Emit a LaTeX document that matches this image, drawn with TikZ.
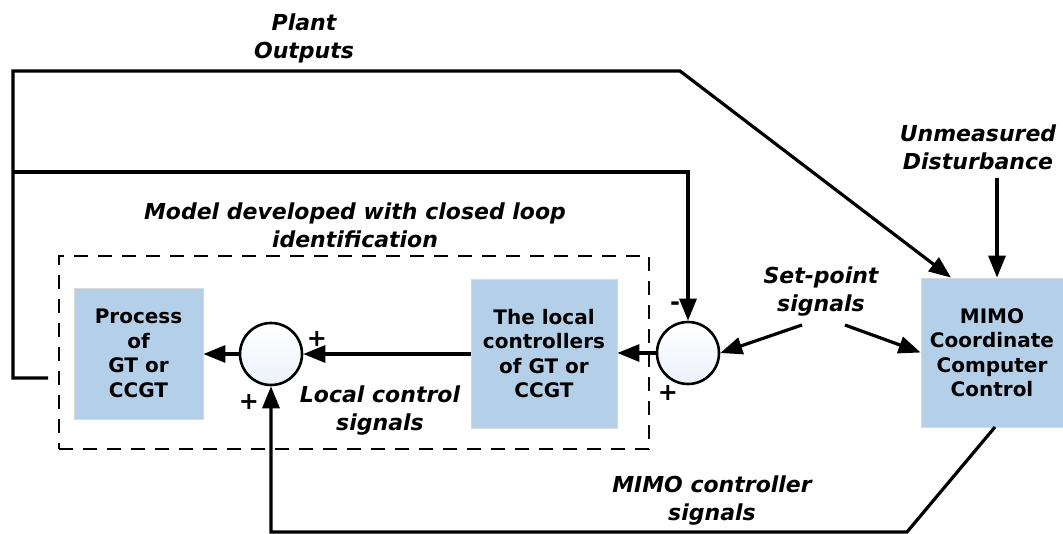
\documentclass[tikz,border=0pt]{standalone}
\usepackage{fontspec}
\setmainfont{DejaVu Sans}
\usetikzlibrary{arrows.meta,calc}
\definecolor{boxblue}{RGB}{180,207,232}
\definecolor{sumfill}{RGB}{236,241,250}
\tikzset{
  x=1pt, y=-1pt,
  wire/.style={line width=3.2pt},
  arr/.style={wire, -{Triangle[length=22pt,width=17pt]}},
  block/.style={fill=boxblue, draw=black!15, line width=0.8pt, align=center, inner sep=0pt,
    font=\fontsize{20}{24.5}\selectfont\bfseries},
  sumnode/.style={circle, draw, line width=2.6pt, minimum size=62pt, inner sep=0pt,
    top color=white, bottom color=sumfill},
  lbl/.style={align=center, inner sep=0pt, font=\fontsize{22}{28}\selectfont\bfseries\itshape},
  sgn/.style={inner sep=0pt, font=\fontsize{24}{24}\selectfont\bfseries},
  modelbox/.style={draw, line width=2.5pt, dash pattern=on 14pt off 10pt, inner sep=0pt}
}
\begin{document}
\begin{tikzpicture}
\useasboundingbox (0,0) rectangle (1063,533);
% dashed model box
\node[modelbox, minimum width=590pt, minimum height=193pt] (model) at (354,352.5) {};
% blocks
\node[block, minimum width=129pt, minimum height=131pt] (proc) at (138.5,353.5) {Process\\of\\GT or\\CCGT};
\node[block, minimum width=146pt, minimum height=149pt] (ctrl) at (544,353.5) {The local\\controllers\\of GT or\\CCGT};
\node[block, minimum width=142pt, minimum height=149pt] (mimo) at (992,352.5) {MIMO\\Coordinate\\Computer\\Control};
% summing junctions
\node[sumnode] (s1) at (271,354) {};
\node[sumnode] (s2) at (688,353) {};
% coordinates
\coordinate (po) at (48,378);
\coordinate (pl) at (13,378);
\coordinate (pt) at (13,71);
\coordinate (pk) at (680,71);
\coordinate (br) at (13,172);
\coordinate (bk) at (688,172);
\coordinate (dist) at (997,178);
\coordinate (sp1) at (802,325);
\coordinate (sp2) at (845,325);
\coordinate (mb) at (995,427);
\coordinate (mk) at (907,532);
\coordinate (ml) at (271,532);
% connectors
\draw[arr] (s1.west) -- (proc.east |- s1.west);
\draw[arr] (ctrl.west |- s1.east) -- (s1.east);
\draw[arr] (s2.west) -- (ctrl.east |- s2.west);
\draw[arr] (po) -- (pl) -- (pt) -- (pk) -- (mimo.north west -| 951,0);
\draw[arr] (br) -- (bk) -- (s2.north);
\draw[arr] (dist) -- (mimo.north -| dist);
\draw[arr] (sp1) -- (s2.east);
\draw[arr] (sp2) -- (mimo.west);
\draw[arr] (mb) -- (mk) -- (ml) -- (s1.south);
% labels
\node[lbl] (lplant) at (304,38) {Plant\\Outputs};
\node[lbl] (ldist) at (978,147) {Unmeasured\\Disturbance};
\node[lbl] (lmodel) at (355,225) {Model developed with closed loop\\identification};
\node[lbl] (lsp) at (821,292) {Set-point\\signals};
\node[lbl] (llocal) at (380,411) {Local control\\signals};
\node[lbl] (lmimo) at (712,501) {MIMO controller\\signals};
% signs
\node[sgn] (m1) at (675,306) {-};
\node[sgn] (p1) at (668,393) {+};
\node[sgn] (p2) at (317,339) {+};
\node[sgn] (p3) at (249,402) {+};
\end{tikzpicture}
\end{document}
